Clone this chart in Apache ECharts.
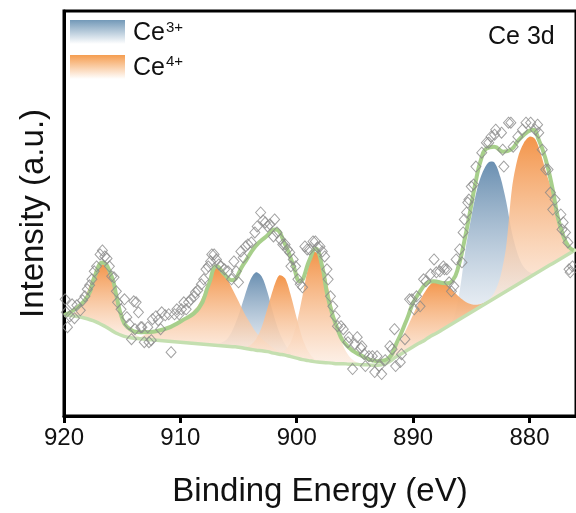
<!DOCTYPE html>
<html>
<head>
<meta charset="utf-8">
<script src="https://cdn.jsdelivr.net/npm/echarts@6/dist/echarts.min.js"></script>
<style>
  html, body { margin: 0; padding: 0; background: #fff; }
  #chart { width: 576px; height: 513px; }
</style>
</head>
<body>
<div id="chart"></div>
<script>
/** Ce 3d XPS spectrum **/
var FONT = '"Liberation Sans", Arial, sans-serif';
var tickValues = [920, 910, 900, 890, 880];

// measured points [binding energy, intensity]
var measured = [
  [919.9,117],[919.8,104],[919.7,89],[919.5,100],[919.3,112],[919.1,98],[918.9,111],[918.6,106],[918.4,116],[918.2,120],
  [918.0,127],[917.8,131],[917.6,137],[917.4,145],[917.2,150],[916.9,162],[916.7,166],[916.5,160],[916.3,158],[916.1,150],
  [915.9,140],[915.7,139],[915.5,125],[915.4,114],[915.1,107],[914.8,117],[914.6,99],[914.4,92],[914.2,77],[914.0,115],
  [913.9,87],[913.8,114],[913.6,104],[913.4,89],[913.3,89],[913.1,74],[912.8,89],[912.7,74],[912.5,76],[912.4,97],
  [912.1,100],[911.9,96],[911.7,87],[911.6,104],[911.3,101],[911.0,102],[910.8,64],[910.5,102],[910.3,107],[910.1,102],
  [909.9,107],[909.7,114],[909.5,107],[909.3,114],[909.1,117],[908.8,120],[908.7,124],[908.5,126],[908.2,132],[908.0,137],
  [907.8,147],[907.6,150],[907.4,155],[907.3,162],[907.1,162],[906.9,157],[906.7,152],[906.5,150],[906.2,147],[905.9,145],
  [905.6,137],[905.4,155],[905.2,145],[905.0,134],[904.8,165],[904.6,159],[904.4,170],[904.2,172],[903.9,174],[903.6,184],
  [903.4,190],[903.1,204],[902.9,196],[902.7,194],[902.5,190],[902.3,192],[902.0,180],[901.9,197],[901.7,184],[901.4,177],
  [901.2,172],[901.0,172],[900.8,167],[900.6,164],[900.5,150],[900.3,157],[900.1,150],[899.9,137],[899.7,132],[899.5,129],
  [899.3,170],[899.1,167],[898.9,167],[898.6,175],[898.4,175],[898.2,169],[898.0,170],[897.8,165],[897.6,160],[897.4,147],
  [897.3,137],[897.1,120],[896.9,110],[896.7,100],[896.5,90],[896.2,90],[896.0,87],[895.6,74],[895.5,79],[895.2,47],
  [895.0,72],[894.8,79],[894.5,68],[894.4,70],[894.2,62],[894.1,50],[893.8,60],[893.5,60],[893.3,44],[893.1,60],
  [892.9,50],[892.7,42],[892.4,56],[892.0,70],[891.8,67],[891.6,87],[891.5,50],[891.1,54],[891.0,62],[890.7,77],
  [890.3,117],[890.1,117],[889.9,107],[889.7,120],[889.4,110],[889.1,137],[888.9,135],[888.5,142],[888.2,157],[888.0,144],
  [887.7,145],[887.4,150],[887.3,147],[887.1,147],[886.9,134],[886.7,125],[886.5,130],[886.3,157],[886.0,167],[885.8,154],
  [885.7,184],[885.6,197],[885.4,204],[885.3,214],[885.2,217],[885.0,230],[884.8,232],[884.6,250],[884.1,264],[883.7,274],
  [883.5,274],[883.3,280],[883.0,282],[882.9,287],[882.4,284],[882.3,267],[882.2,250],[881.8,294],[881.6,294],[881.4,270],
  [881.0,280],[880.6,287],[880.3,294],[879.9,294],[879.5,287],[879.3,292],[879.2,284],[878.9,267],[878.6,247],[878.4,247],
  [878.2,224],[878.0,207],[877.8,217],[877.3,202],[877.2,187],[877.1,194],[876.9,184],[876.7,174],[876.6,147],[876.5,144],
  [876.3,150]
];

// fitted envelope [binding energy, intensity]
var envelope = [
  [920,101],[919.06,107],[917.96,120],[917.36,140],[916.68,154],[915.91,140],[915.49,120],[915.06,100],[914.55,89],[913.36,84],
  [911.4,87],[909.95,95],[908.42,108],[907.56,132],[906.88,150],[906.2,142],[905.6,136],[904.58,152],[903.56,170],[902.62,180],
  [901.86,187],[901.0,172],[900.32,152],[899.73,135],[898.88,157],[898.4,168],[897.85,152],[897.34,120],[896.49,87],[895.64,70],
  [894.36,60],[893.08,55],[892.23,57],[891.38,74],[890.53,97],[889.68,120],[888.23,135],[887.2,133],[886.6,136],[886.1,150],
  [885.6,175],[885.1,205],[884.6,236],[884.14,258],[883.71,268],[883.03,270],[882.27,265],[881.59,267],[880.9,277],[880.14,285],
  [879.71,287],[879.2,277],[878.6,257],[878.0,227],[877.58,200],[877.07,180],[876.64,170],[876.2,166]
];

// energy grid for background and components: 920 -> 876, step 0.5 eV
var gridStart = 920, gridStep = 0.5;
var background = [
  101, 101, 100, 99, 97.5, 95.5, 93, 90, 86.5, 83,
  80.5, 79, 78, 77.5, 77, 76.5, 76, 75.5, 75, 74.5,
  74, 73.5, 73, 72.5, 72, 71.5, 71, 70.5, 70, 69.5,
  69, 68, 67, 66, 65.5, 64.5, 63, 62, 61, 59.5,
  58, 56.5, 55.5, 54.5, 54, 53.5, 53, 52.5, 52.5, 52,
  52, 51.5, 51.5, 51, 51, 52, 55, 59, 62.5, 66,
  69.5, 73, 76, 80, 83, 86.5, 90, 93.5, 97, 100.5,
  104, 107.5, 111, 114.5, 118, 121.5, 125, 128.5, 132, 135.5,
  139, 142.5, 146, 149.5, 153, 156.5, 160, 163.5, 167
];

// fitted components, intensity above background, starting at `from` eV
var ce3Peaks = [
  { from: 907.0, values: [0, 3, 7, 17, 32, 51, 69, 78, 74, 59, 39, 22, 11, 4, 1, 0] },
  { from: 887.0, values: [0, 5, 28, 66, 95, 120, 134, 140, 136, 118, 90, 55, 30, 14, 5, 0] }
];
var ce4Peaks = [
  { from: 920.0, values: [0, 1, 4, 12, 27, 45, 59, 61, 52, 36, 20, 10, 5, 2, 0] },
  { from: 913.5, values: [0, 5, 7, 9, 11, 13, 16, 20, 25, 31, 38, 50, 66, 78, 76, 68, 57, 46, 35, 26, 18, 12, 8, 5, 3, 1, 0] },
  { from: 905.0, values: [0, 1, 4, 11, 24, 44, 65, 79, 77, 61, 40, 21, 9, 3, 1, 0] },
  { from: 902.0, values: [0, 1.5, 5, 15, 35, 64, 94, 110, 105, 86, 59, 35, 18, 8, 3, 1, 0] },
  { from: 892.5, values: [0, 5, 9, 15, 23, 32, 41, 48, 52, 53, 48, 41, 31, 22, 14, 8, 4, 2, 1, 0] },
  { from: 884.0, values: [0, 2, 6, 18, 45, 100, 127, 138, 141, 135, 116, 92, 71, 42, 22, 5, 0] }
];

var ce3Colors = ['#6a8fb1', 'rgba(238,242,247,0.7)'];
var ce4Colors = ['#f3954a', 'rgba(252,234,222,0.7)'];

function energyAt(i) { return +(gridStart - i * gridStep).toFixed(2); }

var bgData = background.map(function (v, i) { return [energyAt(i), v]; });

// [energy, background, background + component]
function peakPoints(peak) {
  var offset = Math.round((gridStart - peak.from) / gridStep);
  return peak.values.map(function (v, k) {
    var i = offset + k;
    return [energyAt(i), background[i], background[i] + v];
  });
}

function gradient(c) {
  return new echarts.graphic.LinearGradient(0, 0, 0, 1, [
    { offset: 0, color: c[0] },
    { offset: 1, color: c[1] }
  ]);
}

function peakSeries(peak, colors) {
  var pts = peakPoints(peak);
  return {
    type: 'custom', data: pts, silent: true, z: 2,
    encode: { x: 0, y: 2 },
    renderItem: function (params, api) {
      if (params.dataIndex !== 0) return null;
      var top = pts.map(function (p) { return api.coord([p[0], p[2]]); });
      var base = pts.slice(1, -1).reverse().map(function (p) { return api.coord([p[0], p[1]]); });
      return {
        type: 'polygon',
        shape: { points: top.concat(base), smooth: 0.3 },
        style: { fill: gradient(colors) }
      };
    }
  };
}

var series = [];
ce3Peaks.forEach(function (p) { series.push(peakSeries(p, ce3Colors)); });
ce4Peaks.forEach(function (p) { series.push(peakSeries(p, ce4Colors)); });

series.push({
  name: 'Background', type: 'line', data: bgData, smooth: true, showSymbol: false,
  lineStyle: { color: '#c4dfb0', width: 3.5 }, z: 3
});
series.push({
  name: 'Envelope', type: 'line', data: envelope, smooth: true, showSymbol: false,
  lineStyle: { color: '#a7cf8b', width: 4 }, z: 4
});
series.push({
  name: 'Raw', type: 'scatter', data: measured, symbol: 'diamond', symbolSize: [10, 11],
  itemStyle: { color: 'rgba(255,255,255,0)', borderColor: '#8a8a8a', borderWidth: 1 }, z: 5
});

var chart = echarts.init(document.getElementById('chart'));
chart.setOption({
  backgroundColor: '#fff',
  animation: false,
  grid: {
    left: 64, right: -5, top: 11, bottom: 96,
    show: true, borderColor: '#000', borderWidth: 3
  },
  xAxis: {
    type: 'value', inverse: true, min: 876, max: 920,
    splitLine: { show: false },
    axisLine: { lineStyle: { color: '#000', width: 3 } },
    axisTick: { customValues: tickValues, length: 7, lineStyle: { color: '#000', width: 3 } },
    axisLabel: { customValues: tickValues, fontSize: 24, color: '#111', margin: 10, fontFamily: FONT },
    name: 'Binding Energy (eV)', nameLocation: 'middle', nameGap: 59,
    nameTextStyle: { fontSize: 33, color: '#111', fontFamily: FONT }
  },
  yAxis: {
    type: 'value', min: 0, max: 406,
    splitLine: { show: false },
    axisLine: { show: true, lineStyle: { color: '#000', width: 3 } },
    axisTick: { show: false },
    axisLabel: { show: false },
    name: 'Intensity (a.u.)', nameLocation: 'middle', nameGap: 14,
    nameTextStyle: { fontSize: 33, color: '#111', fontFamily: FONT }
  },
  graphic: [
    { type: 'rect', left: 70, top: 20, shape: { width: 55, height: 24 },
      style: { fill: gradient(['#7399b8', 'rgba(255,255,255,1)']) } },
    { type: 'rect', left: 70, top: 55, shape: { width: 55, height: 24 },
      style: { fill: gradient(['#f59d50', 'rgba(255,255,255,1)']) } },
    { type: 'text', x: 133, y: 33.5, style: { text: 'Ce', font: '25px ' + FONT, fill: '#111', verticalAlign: 'middle' } },
    { type: 'text', x: 166, y: 28, style: { text: '3+', font: '15px ' + FONT, fill: '#111', verticalAlign: 'middle' } },
    { type: 'text', x: 133, y: 68, style: { text: 'Ce', font: '25px ' + FONT, fill: '#111', verticalAlign: 'middle' } },
    { type: 'text', x: 166, y: 62, style: { text: '4+', font: '15px ' + FONT, fill: '#111', verticalAlign: 'middle' } },
    { type: 'text', x: 488, y: 37.5, style: { text: 'Ce 3d', font: '25px ' + FONT, fill: '#111', verticalAlign: 'middle' } }
  ],
  series: series
});
</script>
</body>
</html>
